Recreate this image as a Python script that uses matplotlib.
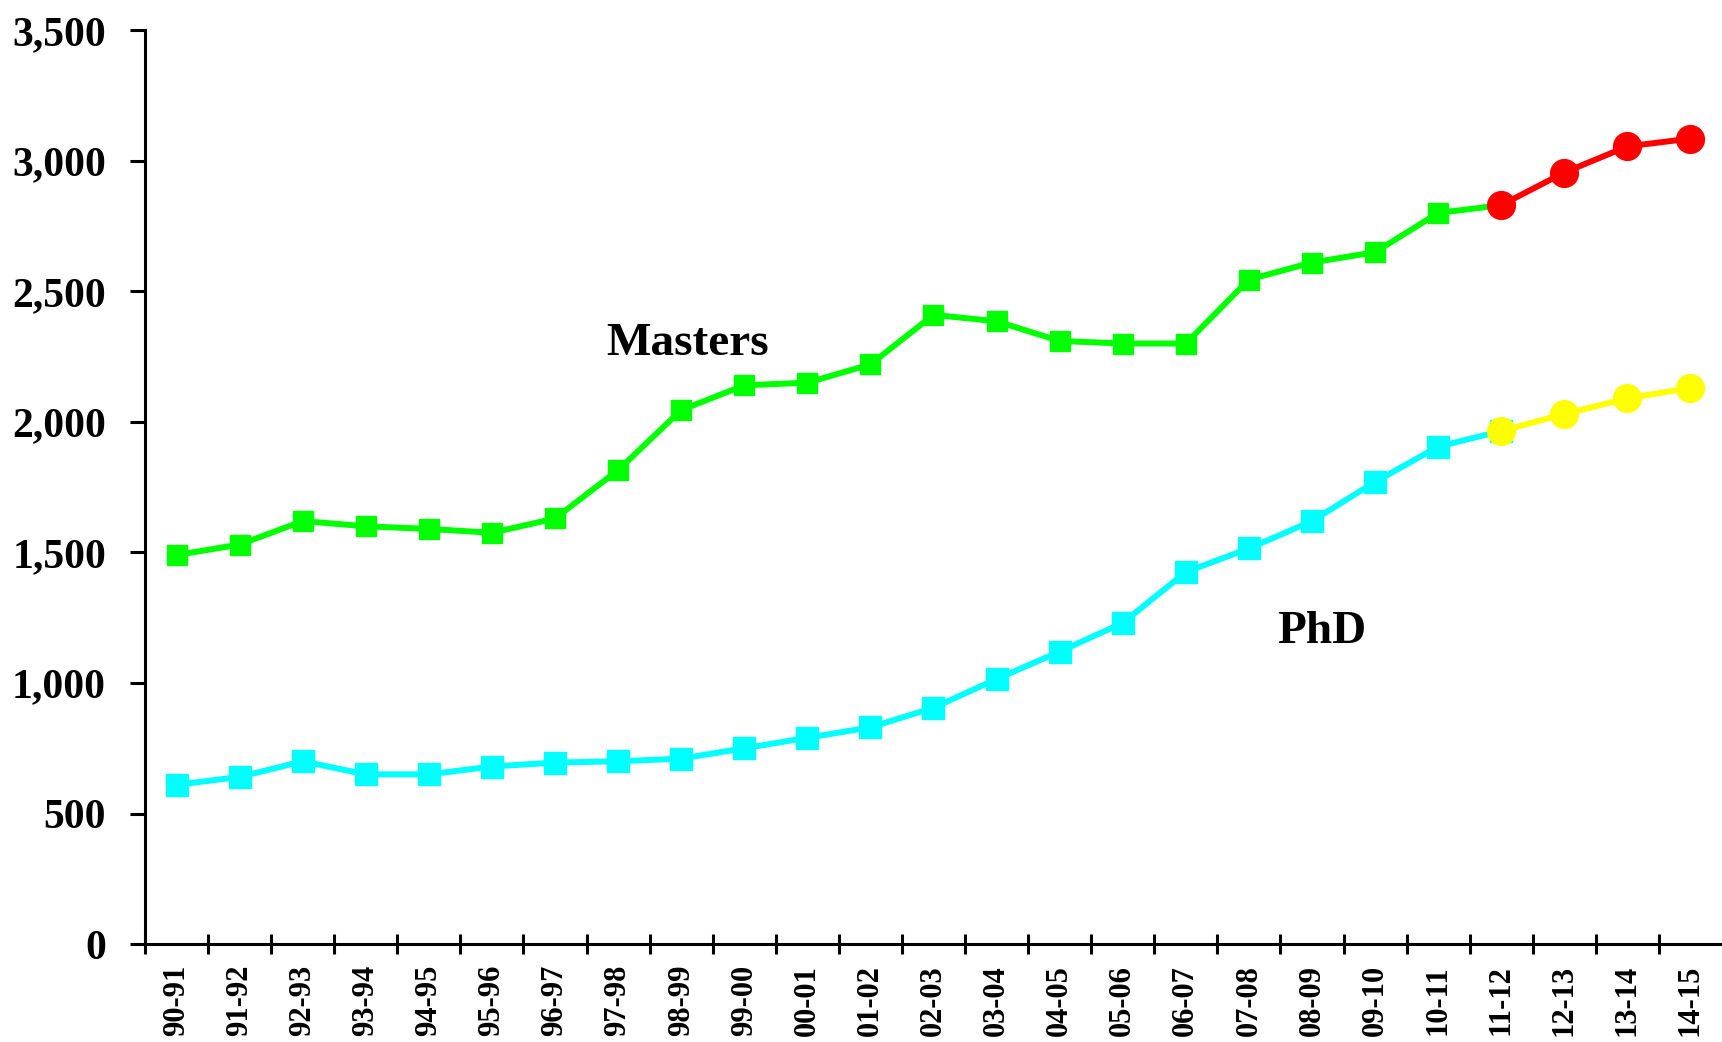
import matplotlib.pyplot as plt
from matplotlib.ticker import FuncFormatter, FixedLocator

years = ["90-91", "91-92", "92-93", "93-94", "94-95", "95-96", "96-97", "97-98",
         "98-99", "99-00", "00-01", "01-02", "02-03", "03-04", "04-05", "05-06",
         "06-07", "07-08", "08-09", "09-10", "10-11", "11-12", "12-13", "13-14", "14-15"]
masters = [1490, 1530, 1620, 1600, 1590, 1575, 1630, 1815, 2045, 2140, 2150, 2220,
           2410, 2385, 2310, 2300, 2300, 2545, 2610, 2650, 2800, 2830, 2955, 3055, 3085]
phd = [610, 640, 700, 650, 650, 680, 695, 700, 710, 750, 790, 830, 905, 1015,
       1120, 1230, 1425, 1515, 1620, 1770, 1905, 1965, 2030, 2090, 2130]
proj_start = 21  # 11-12 onwards are projections

plt.rcParams['font.family'] = ['Liberation Serif', 'DejaVu Serif']
plt.rcParams['font.weight'] = 'bold'

fig = plt.figure(figsize=(17.22, 10.42), dpi=100)
ax = fig.add_axes([0.0842, 0.094, 0.9158, 0.877])

x = list(range(len(years)))
xa = x[:proj_start + 1]
xp = x[proj_start:]

ax.plot(xa, masters[:proj_start + 1], color='#00ff00', lw=4.3, marker='s', ms=14.5, zorder=3)
ax.plot(xp, masters[proj_start:], color='#ff0000', lw=4.3, marker='o', ms=20, zorder=4)
ax.plot(xa, phd[:proj_start + 1], color='#00ffff', lw=4.3, marker='s', ms=15.5, zorder=3)
ax.plot(xp, phd[proj_start:], color='#ffff00', lw=4.3, marker='o', ms=20, zorder=4)

ax.text(8.1, 2300, "Masters", fontsize=34, fontweight='bold', ha='center', va='center')
ax.text(18.15, 1195, "PhD", fontsize=34, fontweight='bold', ha='center', va='center')

ax.set_xlim(-0.5, len(years) - 0.5)
ax.set_ylim(0, 3500)
ax.set_yticks(range(0, 3501, 500))
ax.yaxis.set_major_formatter(FuncFormatter(lambda v, p: f"{int(v):,}"))

ax.set_xticks(x)
ax.set_xticklabels(years, rotation=90, fontsize=22, fontweight='bold')
ax.xaxis.set_minor_locator(FixedLocator([i - 0.5 for i in range(len(years))]))
ax.tick_params(axis='x', which='major', length=0, pad=15)
ax.tick_params(axis='x', which='minor', length=15, width=2.2, direction='inout')
ax.tick_params(axis='y', length=11, width=2.2, labelsize=30, pad=17)
for lab in ax.get_yticklabels():
    lab.set_fontweight('bold')

for s in ['top', 'right']:
    ax.spines[s].set_visible(False)
for s in ['left', 'bottom']:
    ax.spines[s].set_linewidth(2.2)

fig.savefig("out.png", dpi=100)
